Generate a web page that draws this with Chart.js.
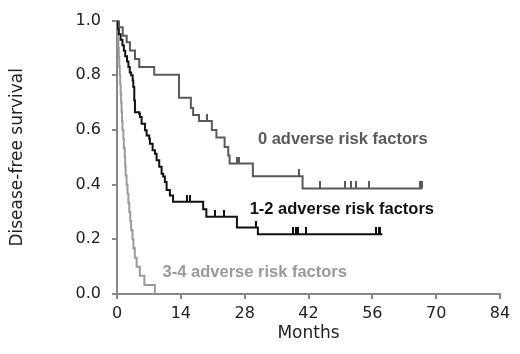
<!DOCTYPE html>
<html lang="en">
  <head>
    <meta charset="UTF-8" />
    <title>Disease-free survival by adverse risk factors</title>
    <script src="https://cdn.jsdelivr.net/npm/chart.js"></script>
    <style>
      body { margin: 0; background: #fff; }
      .chart-box { width: 520px; height: 354px; }
    </style>
  </head>
  <body>
    <div class="chart-box">
      <canvas id="kmChart" width="520" height="354"></canvas>
    </div>

    <script>
      // Kaplan-Meier steps (months, survival after the event)
      const months0 = [0, 0.44, 1.25, 2.12, 2.84, 3.94, 4.88, 8.16, 13.6, 16.2, 16.7, 18.0, 20.8, 21.8, 23.6, 24.4, 24.7, 29.8, 40.7, 66.9];
      const surv0 = [1.0, 0.976, 0.945, 0.921, 0.891, 0.86, 0.83, 0.802, 0.718, 0.68, 0.655, 0.633, 0.6, 0.572, 0.538, 0.507, 0.477, 0.431, 0.386, 0.386];
      const censor0 = [19.8, 26.4, 26.8, 40.0, 44.6, 49.9, 51.4, 52.5, 55.2, 66.5, 66.9];

      const months12 = [0, 0.2, 0.4, 0.8, 1.2, 1.5, 1.8, 2.2, 2.5, 2.8, 3.1, 3.44, 3.57, 3.79, 3.94, 4.88, 5.03, 5.4, 6.13, 6.5, 7.07, 7.22, 7.81, 8.32, 8.69, 9.26, 9.78, 10.13, 10.5, 10.88, 11.6, 12.3, 18.9, 19.6, 26.3, 30.9, 58.2];
      const surv12 = [1.0, 0.97, 0.95, 0.93, 0.91, 0.89, 0.87, 0.85, 0.83, 0.81, 0.8, 0.781, 0.757, 0.708, 0.665, 0.659, 0.647, 0.623, 0.599, 0.58, 0.568, 0.55, 0.526, 0.513, 0.489, 0.465, 0.44, 0.43, 0.41, 0.38, 0.36, 0.337, 0.31, 0.283, 0.243, 0.219, 0.219];
      const censor12 = [15.4, 16.1, 21.4, 23.4, 30.4, 38.7, 39.3, 39.7, 41.5, 56.8, 57.4, 57.7];

      const months34 = [0, 0.1, 0.2, 0.3, 0.4, 0.5, 0.6, 0.7, 0.8, 0.9, 1.0, 1.1, 1.2, 1.4, 1.5, 1.7, 1.8, 1.9, 2.1, 2.3, 2.5, 2.7, 2.9, 3.1, 3.4, 3.6, 3.9, 4.3, 5.0, 6.0, 8.3];
      const surv34 = [1.0, 0.967, 0.933, 0.9, 0.867, 0.833, 0.8, 0.767, 0.733, 0.7, 0.667, 0.633, 0.6, 0.567, 0.533, 0.5, 0.467, 0.433, 0.4, 0.367, 0.333, 0.3, 0.267, 0.233, 0.2, 0.167, 0.133, 0.1, 0.067, 0.033, 0];

      const groupNames = ["0 adverse risk factors", "1-2 adverse risk factors", "3-4 adverse risk factors"];
      const xTicks = [0, 14, 28, 42, 56, 70, 84];
      const yTicks = [0, 0.2, 0.4, 0.6, 0.8, 1.0];

      const colors = ["#5a5a5a", "#111111", "#9a9a9a"];

      // survival level of a curve at time t (for placing censor ticks)
      function levelAt(times, surv, t) {
        let v = surv[0];
        for (let i = 0; i < times.length; i++) {
          if (times[i] <= t) v = surv[i];
        }
        return v;
      }

      function toPoints(times, surv) {
        return times.map((t, i) => ({ x: t, y: surv[i] }));
      }

      function censorPoints(times, surv, cens) {
        return cens.map((t) => ({ x: t, y: levelAt(times, surv, t) }));
      }

      // small upward tick used as the censor mark
      function tickMark(color) {
        const c = document.createElement("canvas");
        c.width = 2;
        c.height = 14;
        const g = c.getContext("2d");
        g.fillStyle = color;
        g.fillRect(0, 0, 2, 7);
        return c;
      }

      function curve(times, surv, color) {
        return {
          type: "line",
          data: toPoints(times, surv),
          borderColor: color,
          borderWidth: 2,
          stepped: true,
          pointRadius: 0,
          fill: false,
        };
      }

      function censors(times, surv, cens, color) {
        return {
          type: "scatter",
          data: censorPoints(times, surv, cens),
          pointStyle: tickMark(color),
          pointRadius: 3,
          showLine: false,
        };
      }

      // curve labels drawn next to each line
      const curveLabelPlugin = {
        id: "curveLabels",
        afterDatasetsDraw(chart) {
          const anchors = [[30.9, 0.566], [29.1, 0.31], [10.0, 0.08]];
          const { ctx, scales } = chart;
          ctx.save();
          ctx.font = "bold 16.5px 'Liberation Sans', Arial, sans-serif";
          ctx.textAlign = "left";
          ctx.textBaseline = "middle";
          groupNames.forEach((name, i) => {
            ctx.fillStyle = colors[i];
            ctx.fillText(name, scales.x.getPixelForValue(anchors[i][0]), scales.y.getPixelForValue(anchors[i][1]));
          });
          ctx.restore();
        },
      };

      const axisFont = { family: "'DejaVu Sans', sans-serif", size: 16 };

      new Chart(document.getElementById("kmChart"), {
        type: "line",
        data: {
          datasets: [
            curve(months0, surv0, colors[0]),
            curve(months12, surv12, colors[1]),
            curve(months34, surv34, colors[2]),
            censors(months0, surv0, censor0, colors[0]),
            censors(months12, surv12, censor12, colors[1]),
          ],
        },
        options: {
          responsive: false,
          animation: false,
          layout: { padding: { left: 0, right: 20, top: 20, bottom: 0 } },
          plugins: { legend: { display: false }, tooltip: { enabled: false } },
          scales: {
            x: {
              type: "linear",
              min: 0,
              max: 84,
              afterBuildTicks: (s) => { s.ticks = xTicks.map((v) => ({ value: v })); },
              afterFit: (s) => { s.height = 60; },
              ticks: { color: "#222", font: axisFont, padding: 5, callback: (v) => String(v) },
              grid: { drawOnChartArea: false, tickLength: 5, color: "#888", lineWidth: 2 },
              border: { color: "#888", width: 2 },
              title: {
                display: true,
                text: "Months",
                color: "#222",
                font: { family: "'DejaVu Sans', sans-serif", size: 17 },
                padding: { top: 0, bottom: 10 },
              },
            },
            y: {
              type: "linear",
              min: 0,
              max: 1,
              afterBuildTicks: (s) => { s.ticks = yTicks.map((v) => ({ value: v })); },
              afterFit: (s) => { s.width = 117; },
              ticks: { color: "#222", font: axisFont, padding: 11, callback: (v) => v.toFixed(1) },
              grid: { drawOnChartArea: false, tickLength: 5, color: "#888", lineWidth: 2 },
              border: { color: "#888", width: 2 },
              title: {
                display: true,
                text: "Disease-free survival",
                color: "#222",
                font: { family: "'DejaVu Sans', sans-serif", size: 17 },
                padding: { top: 7, bottom: 0 },
              },
            },
          },
        },
        plugins: [curveLabelPlugin],
      });
    </script>
  </body>
</html>
